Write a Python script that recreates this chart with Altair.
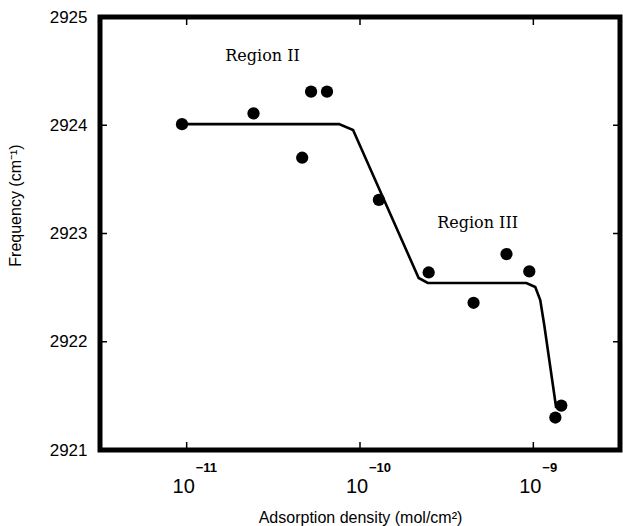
import altair as alt
import pandas as pd

# Measured points
pt_x = [9.4e-12, 2.43e-11, 4.64e-11, 5.22e-11, 6.45e-11, 1.285e-10,
        2.49e-10, 4.52e-10, 7.0e-10, 9.48e-10, 1.34e-9, 1.45e-9]
pt_y = [2924.01, 2924.11, 2923.70, 2924.31, 2924.31, 2923.31,
        2922.64, 2922.36, 2922.81, 2922.65, 2921.30, 2921.41]

# Fitted curve
cv_x = [9.35e-12, 7.57e-11, 9.12e-11, 2.18e-10, 2.46e-10, 9.12e-10,
        1.026e-9, 1.096e-9, 1.156e-9, 1.236e-9, 1.355e-9]
cv_y = [2924.01, 2924.01, 2923.956, 2922.589, 2922.543, 2922.543,
        2922.506, 2922.386, 2922.155, 2921.831, 2921.388]

x_ticks = [1e-11, 1e-10, 1e-9]
x_exps = ["\u221211", "\u221210", "\u22129"]
y_ticks = [2921, 2922, 2923, 2924, 2925]
y_inner_ticks = [2922, 2923, 2924]

region_labels = ["Region II", "Region III"]
region_x = [2.74e-11, 4.77e-10]
region_y = [2924.64, 2923.10]

W, H = 520, 433
XDOM = [10 ** -11.5, 10 ** -8.5]
YDOM = [2921, 2925]

pts = pd.DataFrame({"x": pt_x, "y": pt_y})
cv = pd.DataFrame({"x": cv_x, "y": cv_y, "o": list(range(len(cv_x)))})
xt = pd.DataFrame({"x": x_ticks, "e": x_exps})
yt = pd.DataFrame({"y": y_inner_ticks})
rg = pd.DataFrame({"t": region_labels, "x": region_x, "y": region_y})

xs = alt.Scale(type="log", domain=XDOM, nice=False)
ys = alt.Scale(domain=YDOM, nice=False, zero=False)

FONT = "Liberation Sans"

x_enc = alt.X("x:Q", scale=xs,
              axis=alt.Axis(labels=False, ticks=False, domain=False, grid=False,
                            title="Adsorption density (mol/cm\u00b2)",
                            titleFont=FONT, titleFontSize=16, titleFontWeight="normal",
                            titleColor="black", titleY=67, titleBaseline="middle"))
y_enc = alt.Y("y:Q", scale=ys,
              axis=alt.Axis(values=y_ticks, format="d", ticks=False, domain=False, grid=False,
                            labelFont=FONT, labelFontSize=17, labelColor="black",
                            labelPadding=13,
                            title="Frequency (cm\u207b\u00b9)", titleFont=FONT,
                            titleFontSize=16, titleFontWeight="normal", titleColor="black",
                            titleX=-85, titleY=188, titleAngle=270,
                            titleBaseline="middle", titleAlign="center"))

curve = alt.Chart(cv).mark_line(color="black", strokeWidth=2.6).encode(
    x=x_enc, y=y_enc, order="o:Q")

points = alt.Chart(pts).mark_point(filled=True, color="black", size=150, opacity=1).encode(
    x=alt.X("x:Q", scale=xs), y=alt.Y("y:Q", scale=ys))

tick_top = alt.Chart(xt).mark_rule(color="black", strokeWidth=1.5).encode(
    x=alt.X("x:Q", scale=xs), y=alt.value(0), y2=alt.value(8))
tick_bot = alt.Chart(xt).mark_rule(color="black", strokeWidth=1.5).encode(
    x=alt.X("x:Q", scale=xs), y=alt.value(H), y2=alt.value(H - 8))
tick_left = alt.Chart(yt).mark_rule(color="black", strokeWidth=1.5).encode(
    y=alt.Y("y:Q", scale=ys), x=alt.value(0), x2=alt.value(7))
tick_right = alt.Chart(yt).mark_rule(color="black", strokeWidth=1.5).encode(
    y=alt.Y("y:Q", scale=ys), x=alt.value(W), x2=alt.value(W - 7))

ten = alt.Chart(xt).mark_text(font=FONT, fontSize=20, color="black", align="center",
                              baseline="middle", dx=-3).encode(
    x=alt.X("x:Q", scale=xs), y=alt.value(H + 37), text=alt.value("10"))
expo = alt.Chart(xt).mark_text(font=FONT, fontSize=13, fontWeight="bold", color="black",
                               align="left", baseline="middle", dx=9).encode(
    x=alt.X("x:Q", scale=xs), y=alt.value(H + 18), text="e:N")

regions = alt.Chart(rg).mark_text(font="DejaVu Serif", fontSize=16, color="black",
                                  align="center", baseline="middle").encode(
    x=alt.X("x:Q", scale=xs), y=alt.Y("y:Q", scale=ys), text="t:N")

chart = alt.layer(curve, points, tick_top, tick_bot, tick_left, tick_right,
                  ten, expo, regions).properties(
    width=W, height=H,
    autosize=alt.AutoSizeParams(type="none"),
    padding={"left": 100, "top": 17, "right": 3, "bottom": 76},
    background="white",
).configure_view(stroke="black", strokeWidth=5)

chart.save("out.html", embed_options={"renderer": "svg", "actions": False})
